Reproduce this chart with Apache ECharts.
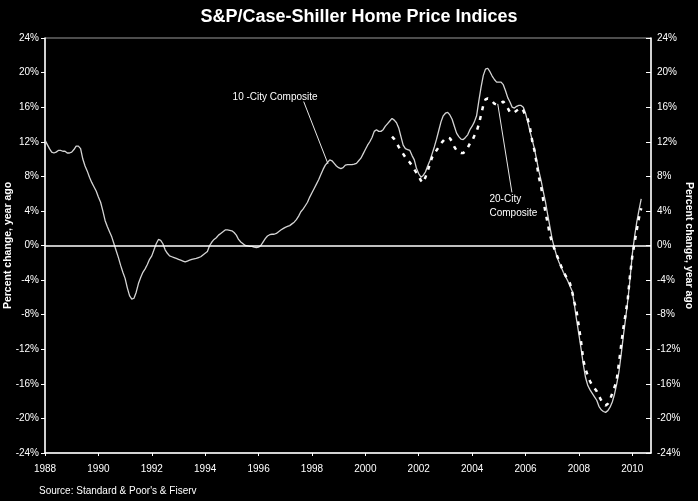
<!DOCTYPE html>
<html>
<head>
<meta charset="utf-8">
<script src="https://cdn.jsdelivr.net/npm/echarts/dist/echarts.min.js"></script>
<style>
html,body{margin:0;padding:0;background:#000;}
#c{width:698px;height:501px;}
</style>
</head>
<body>
<div id="c"></div>
<script>
// Monthly year-over-year % change, 10-City Composite, Jan 1988 .. May 2010
const start10 = 1988;
const city10 = [
  // 1988
  12.2, 11.7, 11.2, 10.8, 10.7, 10.8, 11.0, 11.0, 10.9, 10.9, 10.7, 10.7,
  // 1989
  10.8, 11.1, 11.5, 11.5, 11.2, 10.0, 9.2, 8.6, 7.9, 7.3, 6.8, 6.3,
  // 1990
  5.6, 5.0, 4.0, 2.9, 2.2, 1.6, 1.0, 0.2, -0.6, -1.4, -2.3, -3.1,
  // 1991
  -3.8, -4.9, -5.8, -6.2, -6.1, -5.4, -4.4, -3.7, -3.1, -2.7, -2.2, -1.6,
  // 1992
  -1.2, -0.5, 0.2, 0.7, 0.6, 0.2, -0.5, -0.9, -1.2, -1.3, -1.4, -1.5,
  // 1993
  -1.6, -1.7, -1.8, -1.9, -1.8, -1.7, -1.6, -1.55, -1.5, -1.4, -1.3, -1.1,
  // 1994
  -0.9, -0.7, 0.0, 0.4, 0.7, 0.9, 1.2, 1.4, 1.6, 1.8, 1.8, 1.75,
  // 1995
  1.7, 1.5, 1.2, 0.7, 0.4, 0.2, 0.0, -0.05, -0.1, -0.1, -0.2, -0.25,
  // 1996
  -0.2, 0.0, 0.4, 0.8, 1.1, 1.25, 1.3, 1.3, 1.4, 1.6, 1.8, 1.95,
  // 1997
  2.1, 2.2, 2.3, 2.5, 2.7, 3.0, 3.4, 3.9, 4.2, 4.6, 5.0, 5.6,
  // 1998
  6.1, 6.6, 7.1, 7.6, 8.2, 8.8, 9.3, 9.6, 9.9, 9.8, 9.5, 9.2,
  // 1999
  9.0, 8.9, 9.0, 9.3, 9.35, 9.35, 9.35, 9.4, 9.5, 9.8, 10.1, 10.6,
  // 2000
  11.1, 11.6, 12.0, 12.5, 13.2, 13.4, 13.2, 13.2, 13.4, 13.8, 14.1, 14.4,
  // 2001
  14.7, 14.5, 14.2, 13.6, 12.6, 11.6, 11.2, 11.1, 11.0, 10.4, 9.9, 8.9,
  // 2002
  8.3, 7.9, 8.1, 8.5, 9.2, 9.8, 10.6, 11.4, 12.3, 13.3, 14.3, 15.0,
  // 2003
  15.3, 15.4, 15.1, 14.6, 13.8, 13.0, 12.6, 12.3, 12.25, 12.5, 12.8, 13.4,
  // 2004
  13.8, 14.3, 15.0, 16.7, 18.3, 19.65, 20.4, 20.5, 20.1, 19.6, 19.2, 18.9,
  // 2005
  18.9, 18.9, 18.6, 17.9, 17.1, 16.6, 16.0, 15.9, 16.1, 16.2, 16.2, 16.0,
  // 2006
  15.3, 14.3, 13.2, 12.2, 11.2, 9.9, 8.6, 7.5, 6.2, 5.0, 3.5, 2.1,
  // 2007
  0.7, -0.3, -1.2, -1.9, -2.5, -3.1, -3.6, -4.1, -4.7, -5.3, -6.9, -8.7,
  // 2008
  -10.3, -12.0, -13.8, -15.3, -16.2, -16.7, -17.1, -17.5, -17.9, -18.6, -19.0, -19.2,
  // 2009
  -19.3, -19.1, -18.7, -18.1, -17.2, -16.0, -14.6, -12.6, -10.4, -8.4, -6.3, -3.8,
  // 2010
  -1.0, 1.0, 2.7, 4.1, 5.4
];

// Monthly year-over-year % change, 20-City Composite, Jan 2001 .. May 2010
const start20 = 2001;
const city20 = [
  // 2001
  12.6, 12.3, 11.9, 11.4, 11.0, 10.6, 10.2, 9.9, 9.6, 9.2, 8.8, 8.4,
  // 2002
  8.0, 7.5, 7.25, 7.9, 8.6, 9.4, 10.2, 10.6, 11.0, 11.4, 11.8, 12.1,
  // 2003
  12.4, 12.5, 12.4, 12.0, 11.4, 11.0, 10.8, 10.7, 10.7, 10.9, 11.3, 11.8,
  // 2004
  12.1, 12.7, 13.2, 14.0, 15.1, 16.2, 16.9, 17.0, 16.9, 16.7, 16.4, 16.3,
  // 2005
  16.4, 16.5, 16.65, 16.3, 15.9, 15.4, 15.3, 15.4, 15.6, 15.8, 15.9, 15.6,
  // 2006
  15.0, 14.6, 13.6, 12.1, 11.0, 9.5, 7.9, 6.8, 5.2, 3.8, 2.5, 1.2,
  // 2007
  0.3, -0.4, -1.1, -1.7, -2.4, -3.0, -3.5, -3.9, -4.4, -5.4, -6.6, -7.7,
  // 2008
  -9.4, -11.2, -13.3, -14.3, -15.1, -15.7, -16.2, -16.5, -16.85, -17.4, -17.9, -18.3,
  // 2009
  -18.5, -18.3, -17.8, -17.1, -16.4, -15.5, -13.6, -11.5, -9.5, -7.9, -6.1, -3.4,
  // 2010
  -1.2, 0.3, 1.8, 3.2, 4.3
];

const yearTicks = ['1988','1990','1992','1994','1996','1998','2000','2002','2004','2006','2008','2010'];
const pctTicks = [-24,-20,-16,-12,-8,-4,0,4,8,12,16,20,24];

// annotation anchors in data coordinates
const label10 = { text: '10 -City Composite', at: [1996.62, 17.1], from: [1997.69, 16.65], to: [1998.60, 9.45] };
const label20 = { text: '20-City\nComposite', at: [2004.65, 4.55], from: [2005.49, 6.14], to: [2004.96, 16.38] };

const toPairs = (start, arr) => arr.map((v, i) => [start + i / 12, v]);

const FONT = 'Liberation Sans, Arial, Helvetica, sans-serif';

const chart = echarts.init(document.getElementById('c'), null, { renderer: 'canvas' });

const yAxisBase = {
  type: 'value',
  min: pctTicks[0],
  max: pctTicks[pctTicks.length - 1],
  interval: 4,
  splitLine: { show: false },
  axisLine: { show: true, lineStyle: { color: '#ffffff', width: 1.5 } },
  axisLabel: { color: '#ffffff', fontSize: 10, fontFamily: FONT, margin: 6, formatter: v => v + '%' },
  nameLocation: 'middle',
  nameMoveOverlap: false,
  name: 'Percent change, year ago',
  nameTextStyle: { color: '#ffffff', fontSize: 10.5, fontWeight: 'bold', fontFamily: FONT }
};

chart.setOption({
  backgroundColor: '#000000',
  animation: false,
  textStyle: { fontFamily: FONT },
  title: {
    text: 'S&P/Case-Shiller Home Price Indices',
    left: 359,
    top: 8,
    padding: 0,
    textAlign: 'center',
    textStyle: { color: '#ffffff', fontSize: 18, fontWeight: 'bold', fontFamily: FONT }
  },
  grid: {
    left: 45, right: 47, top: 38, bottom: 48,
    containLabel: false,
    outerBoundsMode: 'none',
    show: true, borderColor: '#9a9a9a', borderWidth: 1, backgroundColor: 'transparent'
  },
  xAxis: {
    type: 'value',
    min: Number(yearTicks[0]),
    max: 2010.7,
    interval: 2,
    splitLine: { show: false },
    axisLine: { show: true, onZero: false, lineStyle: { color: '#ffffff', width: 1.5 } },
    axisTick: { show: true, length: 3, lineStyle: { color: '#ffffff' } },
    axisLabel: {
      color: '#ffffff', fontSize: 10, fontFamily: FONT, margin: 11,
      showMaxLabel: false,
      formatter: v => (yearTicks.indexOf(String(v)) >= 0 ? String(v) : '')
    }
  },
  yAxis: [
    Object.assign({}, yAxisBase, {
      position: 'left',
      nameGap: 31,
      axisTick: { show: true, length: 4, lineStyle: { color: '#ffffff' } }
    }),
    Object.assign({}, yAxisBase, {
      position: 'right',
      nameGap: 32,
      nameRotate: -90,
      axisTick: { show: true, inside: true, length: 5, lineStyle: { color: '#ffffff' } }
    })
  ],
  graphic: [
    {
      type: 'text', left: 39, top: 486,
      style: { text: "Source: Standard & Poor's & Fiserv", fill: '#ffffff', fontSize: 10, fontFamily: FONT }
    }
  ],
  series: [
    {
      name: '10-City Composite',
      type: 'line',
      data: toPairs(start10, city10),
      showSymbol: false,
      symbol: 'none',
      z: 2,
      lineStyle: { color: '#d4d4d4', width: 1.3 },
      markLine: {
        silent: true,
        symbol: ['none', 'none'],
        label: { show: false },
        data: [
          { yAxis: 0, lineStyle: { color: '#ffffff', width: 1.5, type: 'solid' } },
          [
            { coord: label10.from, lineStyle: { color: '#e8e8e8', width: 1, type: 'solid' } },
            { coord: label10.to }
          ]
        ]
      },
      markPoint: {
        silent: true,
        symbol: 'circle',
        symbolSize: 0,
        data: [{ coord: label10.at }],
        label: { show: true, position: 'inside', formatter: label10.text, color: '#ffffff', fontSize: 10, fontFamily: FONT }
      }
    },
    {
      name: '20-City Composite',
      type: 'line',
      data: toPairs(start20, city20),
      showSymbol: false,
      symbol: 'none',
      z: 3,
      lineStyle: { color: '#ffffff', width: 2.5, type: [4, 6] },
      markLine: {
        silent: true,
        symbol: ['none', 'none'],
        label: { show: false },
        data: [
          [
            { coord: label20.from, lineStyle: { color: '#e8e8e8', width: 1, type: 'solid' } },
            { coord: label20.to }
          ]
        ]
      },
      markPoint: {
        silent: true,
        symbol: 'circle',
        symbolSize: 0,
        data: [{ coord: label20.at }],
        label: {
          show: true, position: 'right', distance: 0, align: 'left',
          formatter: label20.text, color: '#ffffff', fontSize: 10, lineHeight: 14, fontFamily: FONT
        }
      }
    }
  ]
});
</script>
</body>
</html>
